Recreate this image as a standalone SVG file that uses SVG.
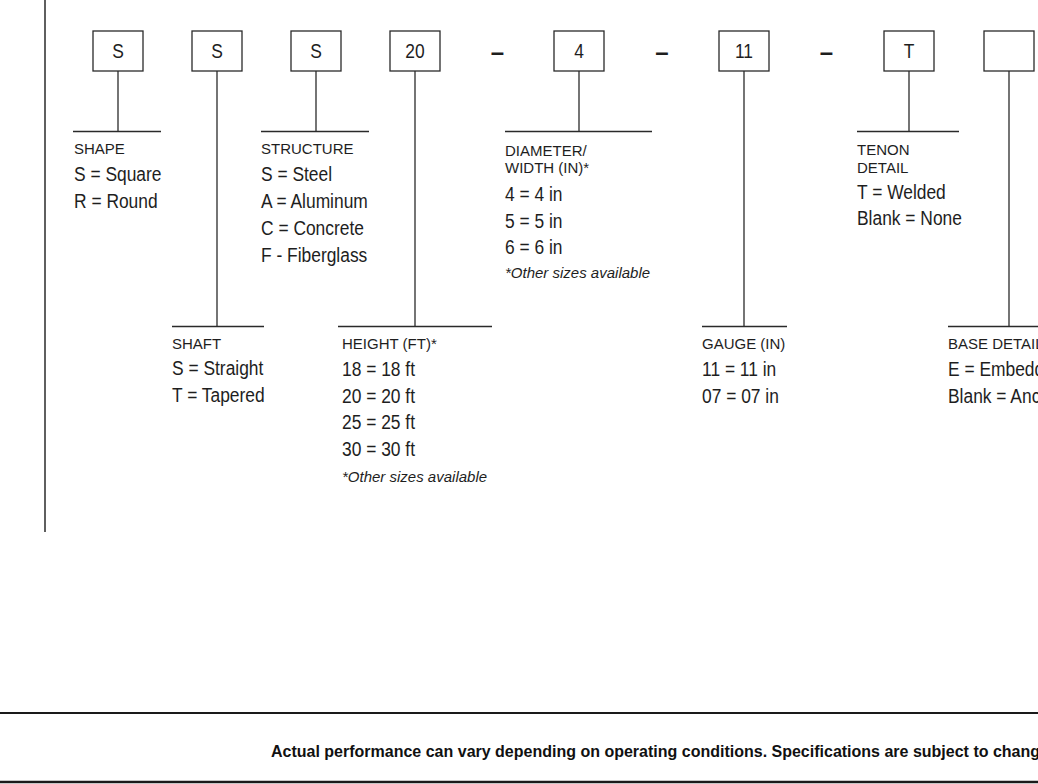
<svg xmlns="http://www.w3.org/2000/svg" width="1038" height="784" viewBox="0 0 1038 784">
<style>
.bg{fill:#ffffff}
.box{fill:#ffffff;stroke:#2a2a2a;stroke-width:1.3}
.ln{stroke:#2a2a2a;stroke-width:1.3;fill:none}
.bt{font-family:"Liberation Sans",Arial,sans-serif;font-size:20px;fill:#1e1e1e;text-anchor:middle}
.dash{font-family:"Liberation Sans",Arial,sans-serif;font-size:24px;font-weight:bold;fill:#1e1e1e;text-anchor:middle}
.hd{font-family:"Liberation Sans",Arial,sans-serif;font-size:15px;fill:#1e1e1e}
.v{font-family:"Liberation Sans",Arial,sans-serif;font-size:20px;fill:#1e1e1e}
.note{font-family:"Liberation Sans",Arial,sans-serif;font-size:15px;font-style:italic;fill:#1e1e1e}
.foot{font-family:"Liberation Sans",Arial,sans-serif;font-size:16px;font-weight:bold;fill:#111111}
</style>
<rect class="bg" x="0" y="0" width="1038" height="784"/>
<line class="ln" x1="45" y1="0" x2="45" y2="532" style="stroke-width:1.5"/>

<g id="connectors">
  <line class="ln" x1="118" y1="71" x2="118" y2="131.5"/>
  <line class="ln" x1="73" y1="131.5" x2="161" y2="131.5"/>
  <line class="ln" x1="217" y1="71" x2="217" y2="326.5"/>
  <line class="ln" x1="172" y1="326.5" x2="264" y2="326.5"/>
  <line class="ln" x1="316" y1="71" x2="316" y2="131.5"/>
  <line class="ln" x1="261" y1="131.5" x2="369" y2="131.5"/>
  <line class="ln" x1="415" y1="71" x2="415" y2="326.5"/>
  <line class="ln" x1="338" y1="326.5" x2="492" y2="326.5"/>
  <line class="ln" x1="579" y1="71" x2="579" y2="131.5"/>
  <line class="ln" x1="505" y1="131.5" x2="652" y2="131.5"/>
  <line class="ln" x1="744" y1="71" x2="744" y2="326.5"/>
  <line class="ln" x1="702" y1="326.5" x2="787" y2="326.5"/>
  <line class="ln" x1="909" y1="71" x2="909" y2="131.5"/>
  <line class="ln" x1="857" y1="131.5" x2="959" y2="131.5"/>
  <line class="ln" x1="1009" y1="71" x2="1009" y2="326.5"/>
  <line class="ln" x1="948" y1="326.5" x2="1040" y2="326.5"/>
</g>

<g id="dashes">
  <text class="dash" x="497.5" y="60">–</text>
  <text class="dash" x="662" y="60">–</text>
  <text class="dash" x="826.5" y="60">–</text>
</g>

<g id="node-shape">
  <rect class="box" x="93" y="31" width="50" height="40"/>
  <text class="bt" transform="translate(118,58) scale(0.87,1)">S</text>
  <text class="hd" x="74" y="154">SHAPE</text>
  <text class="v" transform="translate(74,181) scale(0.87,1)">S = Square</text>
  <text class="v" transform="translate(74,208) scale(0.87,1)">R = Round</text>
</g>

<g id="node-shaft">
  <rect class="box" x="192" y="31" width="50" height="40"/>
  <text class="bt" transform="translate(217,58) scale(0.87,1)">S</text>
  <text class="hd" x="172" y="349">SHAFT</text>
  <text class="v" transform="translate(172,375) scale(0.87,1)">S = Straight</text>
  <text class="v" transform="translate(172,402) scale(0.87,1)">T = Tapered</text>
</g>

<g id="node-structure">
  <rect class="box" x="291" y="31" width="50" height="40"/>
  <text class="bt" transform="translate(316,58) scale(0.87,1)">S</text>
  <text class="hd" x="261" y="154">STRUCTURE</text>
  <text class="v" transform="translate(261,181) scale(0.87,1)">S = Steel</text>
  <text class="v" transform="translate(261,208) scale(0.87,1)">A = Aluminum</text>
  <text class="v" transform="translate(261,235) scale(0.87,1)">C = Concrete</text>
  <text class="v" transform="translate(261,262) scale(0.87,1)">F - Fiberglass</text>
</g>

<g id="node-height">
  <rect class="box" x="390" y="31" width="50" height="40"/>
  <text class="bt" transform="translate(415,58) scale(0.87,1)">20</text>
  <text class="hd" x="342" y="349">HEIGHT (FT)*</text>
  <text class="v" transform="translate(342,376) scale(0.87,1)">18 = 18 ft</text>
  <text class="v" transform="translate(342,402.5) scale(0.87,1)">20 = 20 ft</text>
  <text class="v" transform="translate(342,429) scale(0.87,1)">25 = 25 ft</text>
  <text class="v" transform="translate(342,455.5) scale(0.87,1)">30 = 30 ft</text>
  <text class="note" x="342" y="481.5">*Other sizes available</text>
</g>

<g id="node-diameter">
  <rect class="box" x="554" y="31" width="50" height="40"/>
  <text class="bt" transform="translate(579,58) scale(0.87,1)">4</text>
  <text class="hd" x="505" y="155.5">DIAMETER/</text>
  <text class="hd" x="505" y="173">WIDTH (IN)*</text>
  <text class="v" transform="translate(505,201) scale(0.87,1)">4 = 4 in</text>
  <text class="v" transform="translate(505,227.5) scale(0.87,1)">5 = 5 in</text>
  <text class="v" transform="translate(505,254) scale(0.87,1)">6 = 6 in</text>
  <text class="note" x="505" y="278">*Other sizes available</text>
</g>

<g id="node-gauge">
  <rect class="box" x="719" y="31" width="50" height="40"/>
  <text class="bt" transform="translate(744,58) scale(0.87,1)">11</text>
  <text class="hd" x="702" y="349">GAUGE (IN)</text>
  <text class="v" transform="translate(702,376) scale(0.87,1)">11 = 11 in</text>
  <text class="v" transform="translate(702,403) scale(0.87,1)">07 = 07 in</text>
</g>

<g id="node-tenon">
  <rect class="box" x="884" y="31" width="50" height="40"/>
  <text class="bt" transform="translate(909,58) scale(0.87,1)">T</text>
  <text class="hd" x="857" y="155">TENON</text>
  <text class="hd" x="857" y="172.5">DETAIL</text>
  <text class="v" transform="translate(857,198.5) scale(0.87,1)">T = Welded</text>
  <text class="v" transform="translate(857,225) scale(0.87,1)">Blank = None</text>
</g>

<g id="node-base">
  <rect class="box" x="984" y="31" width="50" height="40"/>
  <text class="hd" x="948" y="349">BASE DETAIL</text>
  <text class="v" transform="translate(948,376) scale(0.87,1)">E = Embedded</text>
  <text class="v" transform="translate(948,403) scale(0.87,1)">Blank = Anchor</text>
</g>

<g id="footer">
  <line x1="0" y1="713" x2="1038" y2="713" stroke="#1a1a1a" stroke-width="2"/>
  <text class="foot" x="271" y="757">Actual performance can vary depending on operating conditions. Specifications are subject to change.</text>
  <line x1="0" y1="782" x2="1038" y2="782" stroke="#1a1a1a" stroke-width="2.5"/>
</g>
</svg>
